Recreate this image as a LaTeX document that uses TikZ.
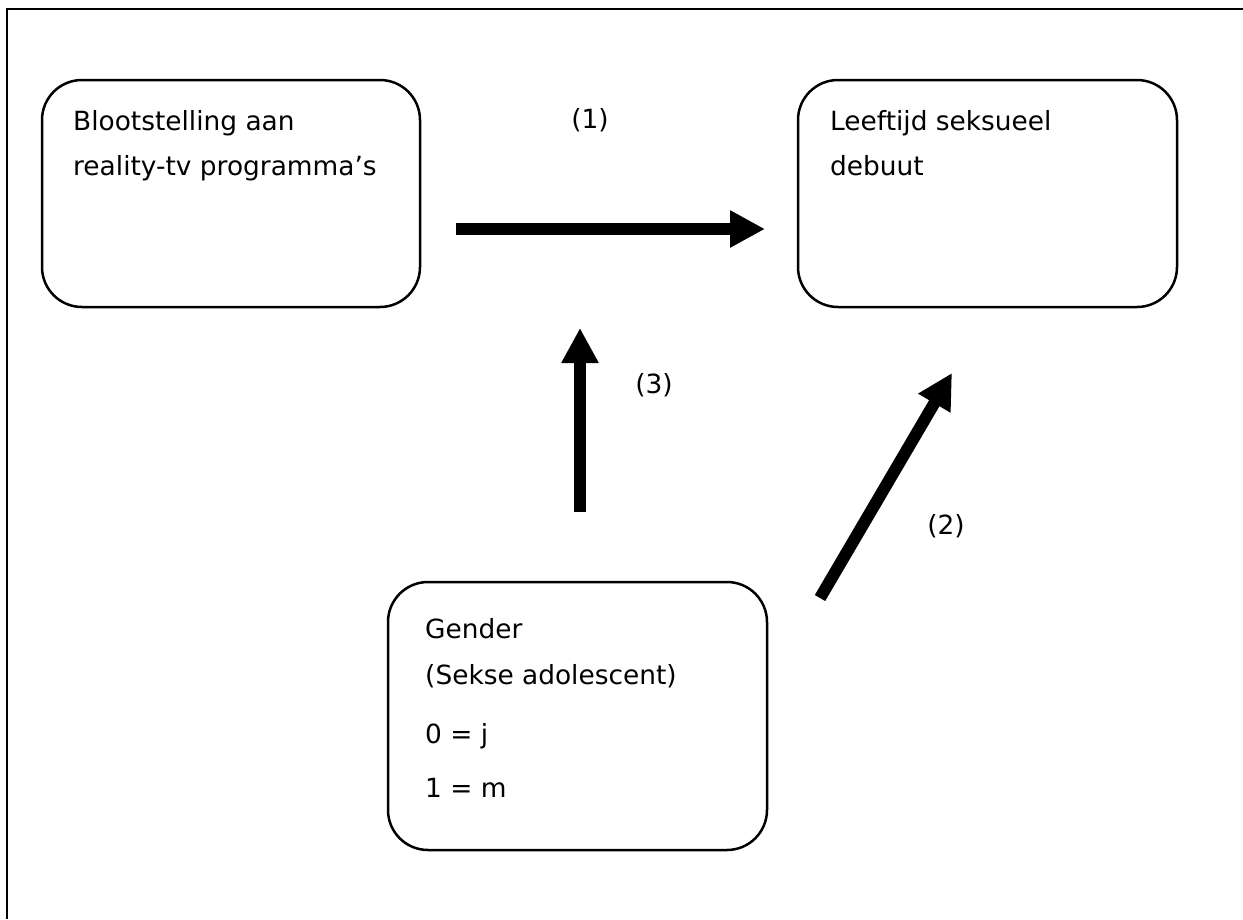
\documentclass[tikz,border=0pt]{standalone}
\usepackage{fontspec}
\setmainfont{DejaVu Sans}
\usetikzlibrary{arrows.meta}
\tikzset{
  box/.style={draw, line width=2.5pt, rounded corners=40pt, inner sep=0pt},
  txt/.style={anchor=base west, inner sep=0pt, font=\fontsize{26.4}{32}\selectfont},
  lbl/.style={inner sep=0pt, font=\fontsize{26.4}{32}\selectfont},
  bigarrow/.style={line width=12pt, -{Triangle[length=35pt,width=35pt]}},
}
\begin{document}
\begin{tikzpicture}[x=1pt,y=-1pt]
\useasboundingbox (0,0) rectangle (1243,919);
\draw[line width=2pt] (7,919) -- (7,9) -- (1243,9);
% boxes
\node[box, minimum width=378pt, minimum height=227pt] (b1) at (231,193.5) {};
\node[box, minimum width=379pt, minimum height=227pt] (b2) at (987.5,193.5) {};
\node[box, minimum width=379pt, minimum height=268pt] (b3) at (577.5,716) {};
% texts
\node[txt] (t11) at (73,130) {Blootstelling aan};
\node[txt] (t12) at (73,175) {reality-tv programma’s};
\node[txt] (t21) at (830,130) {Leeftijd seksueel};
\node[txt] (t22) at (830,175) {debuut};
\node[txt] (t31) at (425,638) {Gender};
\node[txt] (t32) at (425,684) {(Sekse adolescent)};
\node[txt] (t33) at (425,743) {0 = j};
\node[txt] (t34) at (425,797) {1 = m};
% arrows
\coordinate (a1s) at (456,229);
\coordinate (a1e) at (765,229);
\coordinate (a3s) at (580,512);
\coordinate (a3e) at (580,328);
\coordinate (a2s) at (820,598);
\coordinate (a2e) at (952,373);
\draw[bigarrow] (a1s) -- (a1e);
\draw[bigarrow] (a3s) -- (a3e);
\draw[bigarrow] (a2s) -- (a2e);
% labels
\node[lbl] (l1) at (590,120) {(1)};
\node[lbl] (l3) at (654,385) {(3)};
\node[lbl] (l2) at (946,526) {(2)};
\end{tikzpicture}
\end{document}
